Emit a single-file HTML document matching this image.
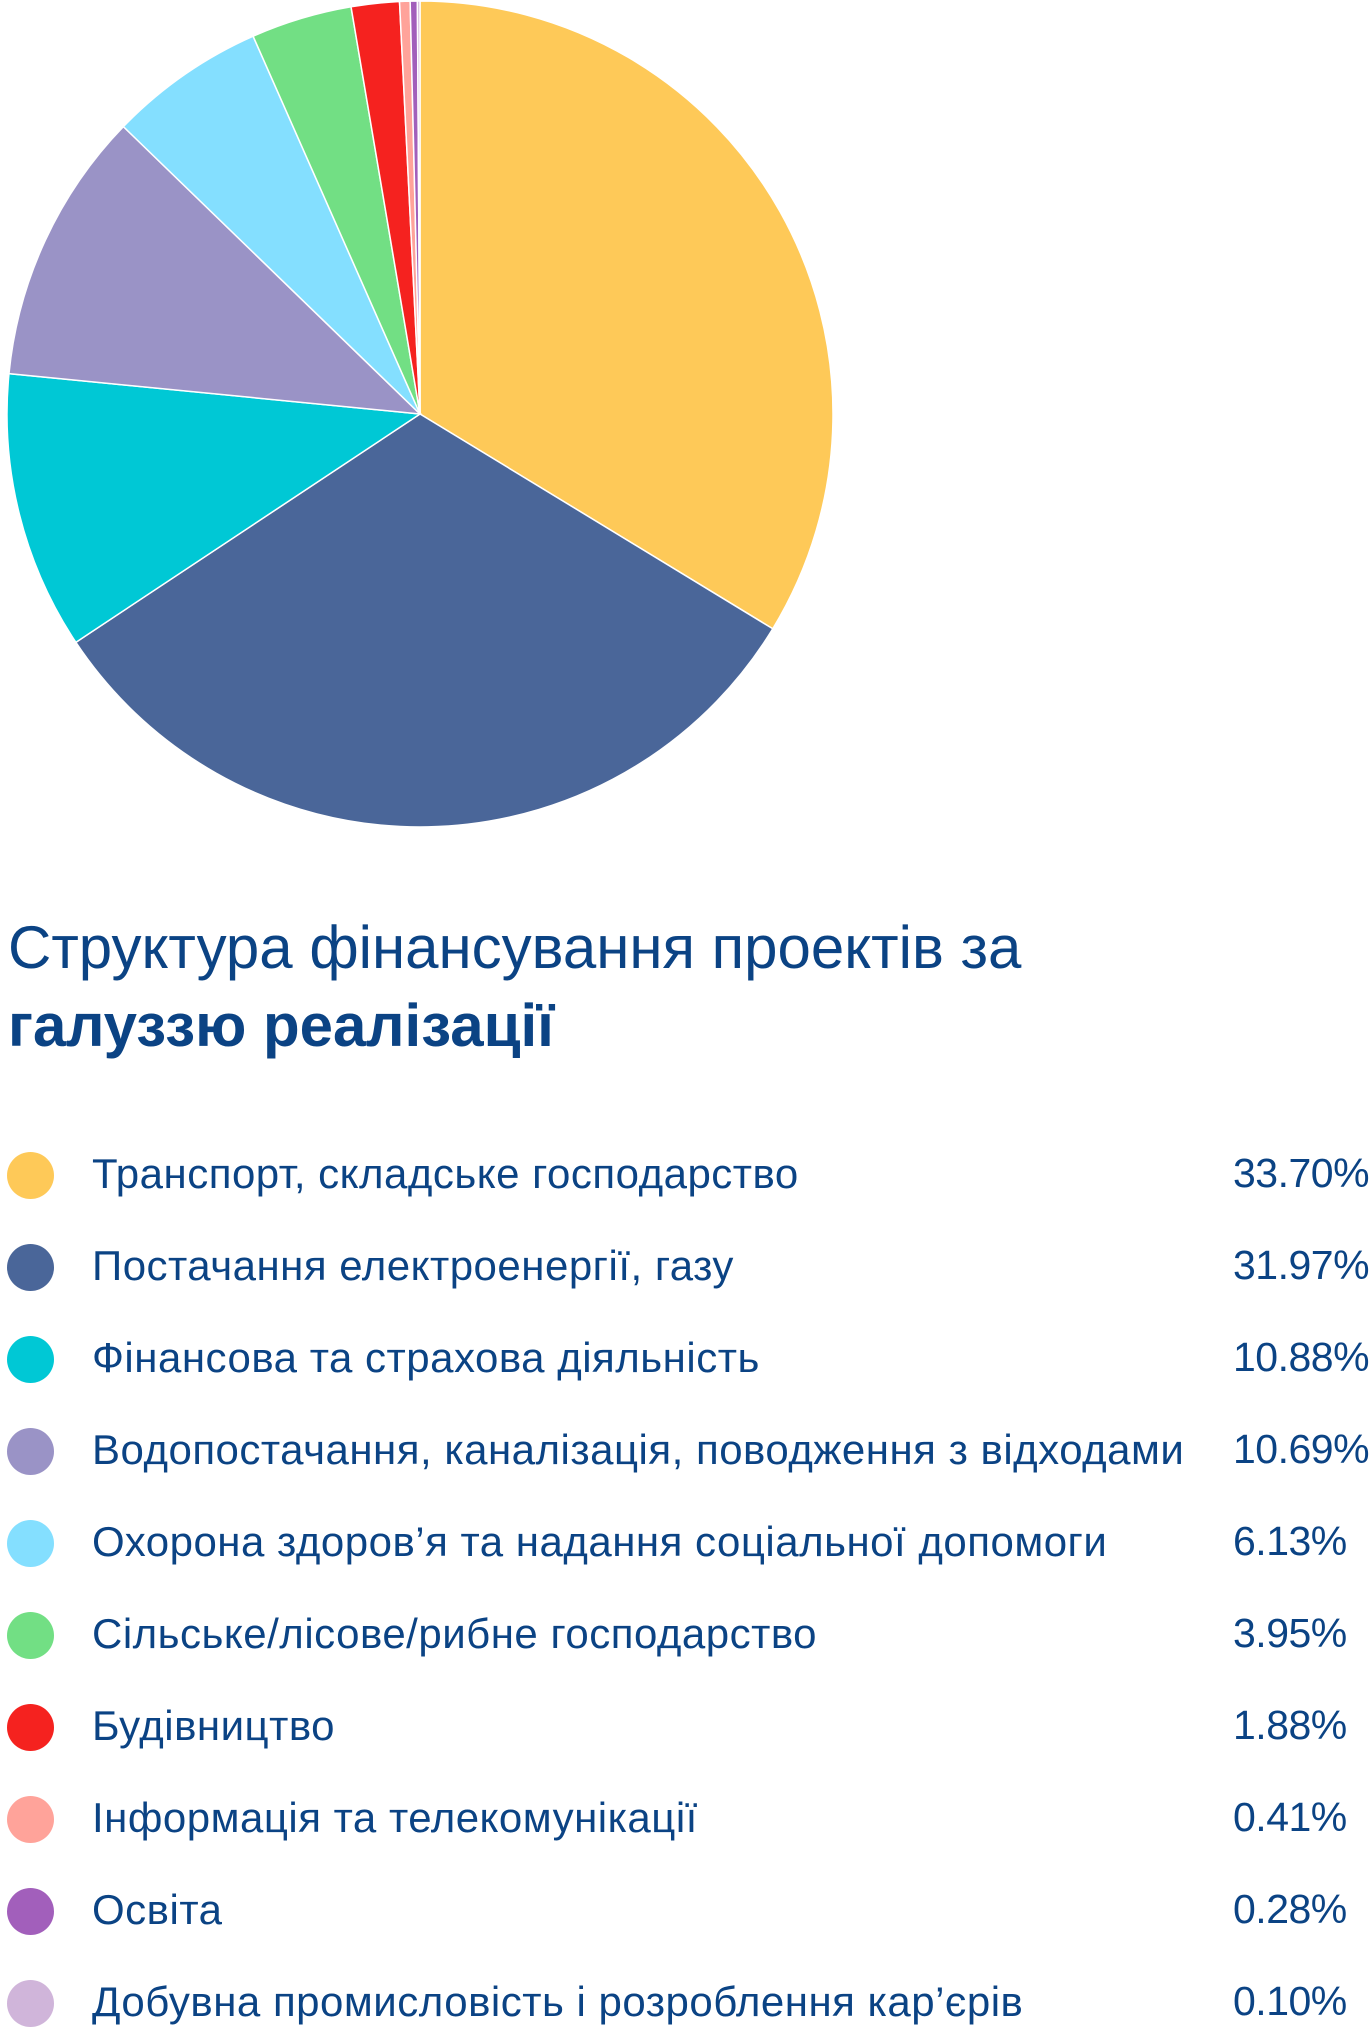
<!DOCTYPE html>
<html><head><meta charset="utf-8"><style>
body{margin:0;width:1372px;height:2023px;background:#fff;overflow:hidden;font-family:"Liberation Sans","DejaVu Sans",sans-serif;color:#0B4384;position:relative}
.t{position:absolute;left:8px;font-size:60px;white-space:nowrap}
.row{position:absolute;left:0;width:1372px;height:60px}
.dot{position:absolute;left:7px;width:47px;height:47px;border-radius:50%}
.lab{position:absolute;left:92px;font-size:42px;letter-spacing:0.5px;white-space:nowrap}
.pct{position:absolute;left:1233px;font-size:41px;letter-spacing:-0.5px;white-space:nowrap}
</style></head><body>
<svg id="pie" width="1372" height="840" style="position:absolute;left:0;top:0"></svg>
<div class="t" style="top:913px">Структура фінансування проектів за</div>
<div class="t" style="top:991px;font-weight:bold">галуззю реалізації</div>
<div id="legend"></div>
<script>
const categories=["Транспорт, складське господарство","Постачання електроенергії, газу","Фінансова та страхова діяльність","Водопостачання, каналізація, поводження з відходами","Охорона здоров’я та надання соціальної допомоги","Сільське/лісове/рибне господарство","Будівництво","Інформація та телекомунікації","Освіта","Добувна промисловість і розроблення кар’єрів"];
const values=[33.70,31.97,10.88,10.69,6.13,3.95,1.88,0.41,0.28,0.10];
const labels=["33.70%","31.97%","10.88%","10.69%","6.13%","3.95%","1.88%","0.41%","0.28%","0.10%"];
const colors=["#FEC958","#4A6699","#00C8D5","#9A93C6","#84DFFF","#72DF84","#F5221F","#FFA39A","#A25FBB","#D0B5DA"];
const cx=420,cy=414,r=413;
const total=values.reduce((a,b)=>a+b,0);
const svg=document.getElementById('pie');
let acc=0;
function pt(f){const a=f*2*Math.PI;return [cx+r*Math.sin(a),cy-r*Math.cos(a)];}
values.forEach((v,i)=>{
 const f0=acc/total;acc+=v;const f1=acc/total;
 const p0=pt(f0),p1=pt(f1);const large=(f1-f0)>0.5?1:0;
 const p=document.createElementNS('http://www.w3.org/2000/svg','path');
 p.setAttribute('d',`M${cx},${cy}L${p0[0]},${p0[1]}A${r},${r} 0 ${large} 1 ${p1[0]},${p1[1]}Z`);
 p.setAttribute('fill',colors[i]);p.setAttribute('stroke','#fff');p.setAttribute('stroke-width','1.5');
 
 
 svg.appendChild(p);
});
const lg=document.getElementById('legend');
categories.forEach((c,i)=>{
 const row=document.createElement('div');row.className='row';row.style.top=(1152+i*92)+'px';
 
 
 row.innerHTML=`<div class="dot" style="top:0px;background:${colors[i]}"></div><div class="lab" style="top:-2px">${c}</div><div class="pct" style="top:-2px">${labels[i]}</div>`;
 lg.appendChild(row);
});
</script>
</body></html>
